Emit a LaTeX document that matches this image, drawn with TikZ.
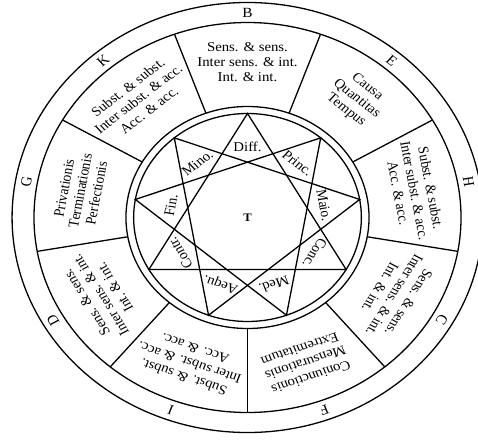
\documentclass[tikz,border=0pt]{standalone}
\usepackage{fontspec}
\setmainfont{Liberation Serif}
\begin{document}
\begin{tikzpicture}[
  ring/.style={line width=1.3pt},
  sect/.style={align=center, font=\fontsize{13.5}{15}\selectfont, transform shape, inner sep=0pt},
  letter/.style={font=\fontsize{14}{16}\selectfont, transform shape, inner sep=0pt},
  starlab/.style={font=\fontsize{13.5}{15}\selectfont, transform shape, inner sep=0pt},
]
\useasboundingbox (-247.5pt,-222.5pt) rectangle (230.5pt,217.5pt);
\begin{scope}[x=1pt, y=1pt, xscale=1.095]
  % circles
  \draw[ring] (0,0) circle (215);
  \draw[ring] (0,0) circle (195);
  \draw[ring] (0,0) circle (111);
  \draw[ring] (0,0) circle (104);
  % sector dividers
  \foreach \a in {-90,-50,-10,30,70,110,150,190,230}
    \draw[ring] (\a:111) -- (\a:195);
  % star tips
  \foreach \i in {0,...,8}
    \coordinate (p\i) at ({90-40*\i}:104);
  \draw[ring, line join=miter] (p0) -- (p3) -- (p6) -- cycle;
  \draw[ring, line join=miter] (p1) -- (p4) -- (p7) -- cycle;
  \draw[ring, line join=miter] (p2) -- (p5) -- (p8) -- cycle;
  % centre
  \node[font=\fontsize{11.5}{13}\selectfont\bfseries, transform shape] (T) at (0,0) {T};
  % star labels
  \node[starlab, rotate=0]    (lDiff) at (90:71)   {Diff.};
  \node[starlab, rotate=-40]  (lPrinc) at (50:71)  {Princ.};
  \node[starlab, rotate=-80]  (lMaio) at (10:71)   {Maio.};
  \node[starlab, rotate=-120] (lConc) at (-30:71)  {Conc.};
  \node[starlab, rotate=-160] (lMed) at (-70:71)   {Med.};
  \node[starlab, rotate=160]  (lAequ) at (-110:71) {Aequ.};
  \node[starlab, rotate=120]  (lContr) at (-150:71) {Contr.};
  \node[starlab, rotate=80]   (lFin) at (170:71)   {Fin.};
  \node[starlab, rotate=40]   (lMino) at (130:71)  {Mino.};
  % sector texts
  \node[sect, rotate=0]    (sB) at (90:155)   {Sens. \& sens.\\Inter sens. \& int.\\Int. \& int.};
  \node[sect, rotate=-40]  (sE) at (50:155)   {Causa\\Quantitas\\Tempus};
  \node[sect, rotate=-80]  (sH) at (10:155)   {Subst. \& subst.\\Inter subst. \& acc.\\Acc. \& acc.};
  \node[sect, rotate=-120] (sC) at (-30:155)  {Sens. \& sens.\\Inter sens. \& int.\\Int. \& int.};
  \node[sect, rotate=-160] (sF) at (-70:155)  {Coniunctionis\\Mensurationis\\Extremitatum};
  \node[sect, rotate=160]  (sI) at (-110:155) {Subst. \& subst.\\Inter subst. \& acc.\\Acc. \& acc.};
  \node[sect, rotate=120]  (sD) at (-150:155) {Sens. \& sens.\\Inter sens. \& int.\\Int. \& int.};
  \node[sect, rotate=80]   (sG) at (170:155)  {Privationis\\Terminationis\\Perfectionis};
  \node[sect, rotate=40]   (sK) at (130:155)  {Subst. \& subst.\\Inter subst. \& acc.\\Acc. \& acc.};
  % ring letters
  \node[letter, rotate=0]    (B) at (90:205)   {B};
  \node[letter, rotate=-40]  (E) at (50:205)   {E};
  \node[letter, rotate=-80]  (H) at (10:205)   {H};
  \node[letter, rotate=-120] (C) at (-30:205)  {C};
  \node[letter, rotate=-160] (F) at (-70:205)  {F};
  \node[letter, rotate=160]  (I) at (-110:205) {I};
  \node[letter, rotate=120]  (D) at (-150:205) {D};
  \node[letter, rotate=80]   (G) at (170:205)  {G};
  \node[letter, rotate=40]   (K) at (130:205)  {K};
\end{scope}
\end{tikzpicture}
\end{document}
